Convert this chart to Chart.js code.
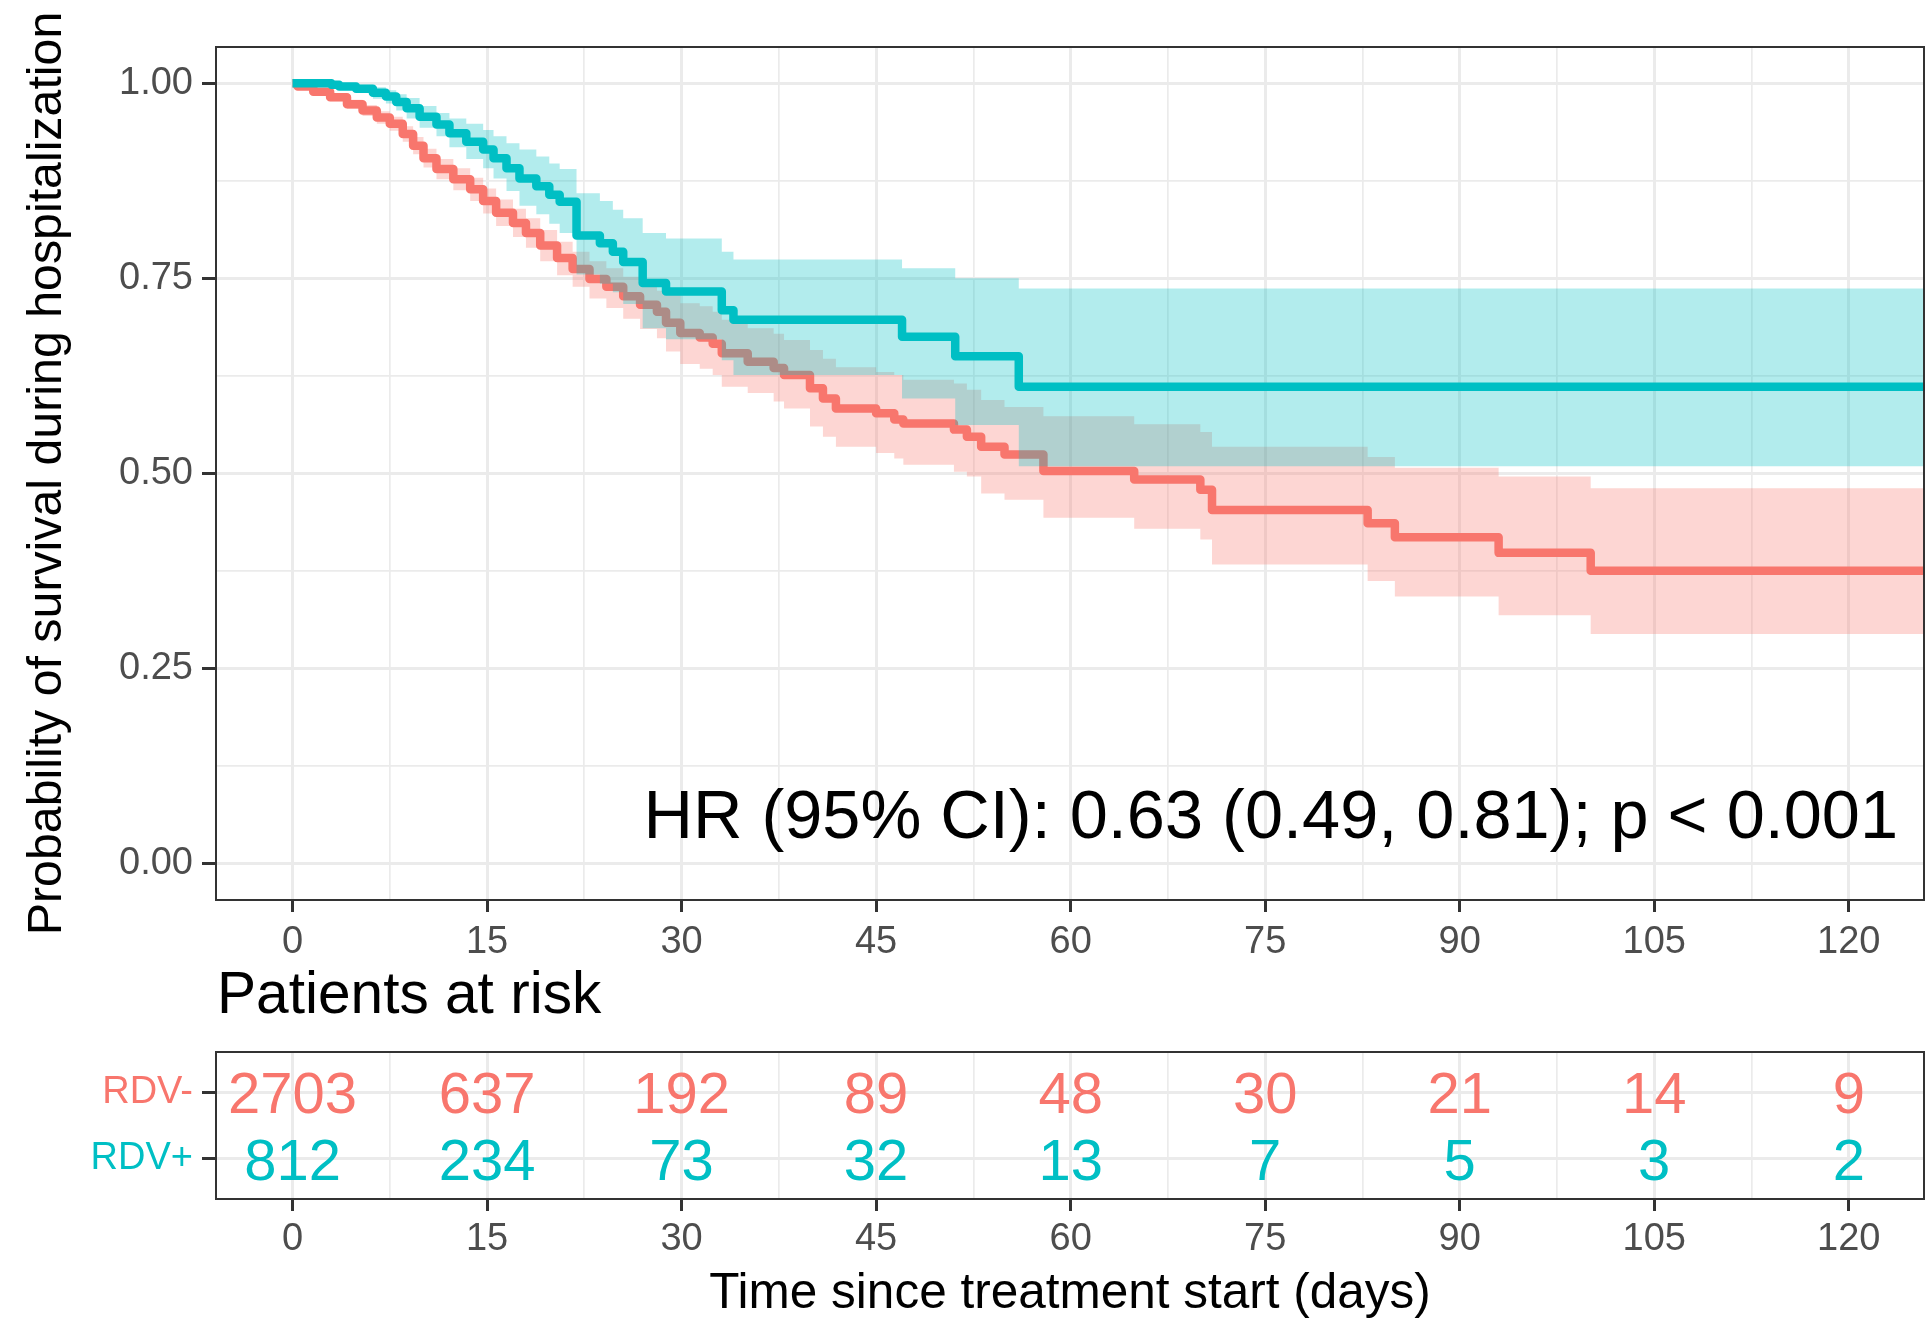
<!DOCTYPE html>
<html>
<head>
<meta charset="utf-8">
<script src="https://cdn.jsdelivr.net/npm/chart.js@4"></script>
<style>
  html, body { margin: 0; padding: 0; background: #fff; }
  body { width: 1926px; height: 1318px; position: relative; overflow: hidden;
         font-family: 'Liberation Sans', Arial, sans-serif; }
  #survival { position: absolute; left: 0; top: 0; }
  #risk { position: absolute; left: 0; top: 1020px; }
  #riskTitle { position: absolute; left: 217px; top: 964px; font-size: 58.6px; line-height: 58px;
               color: #000; white-space: nowrap; }
</style>
</head>
<body>
<canvas id="survival" width="1926" height="965"></canvas>
<div id="riskTitle">Patients at risk</div>
<canvas id="risk" width="1926" height="298"></canvas>
<script>
// RDV- (no remdesivir) Kaplan-Meier estimate
const redTime  = [0, 0.4, 1.6, 2.9, 4.2, 5.4, 6.5, 7.5, 8.5, 9.3, 10.1, 11.1, 12.4, 13.7, 14.7, 15.7, 17.0, 18.0, 19.1, 20.4,
                  21.6, 22.9, 24.2, 25.5, 26.8, 28.1, 28.8, 29.9, 31.4, 32.4, 33.1, 35.1, 37.1, 37.9, 39.9, 40.9, 41.9, 45.0,
                  46.4, 47.1, 51.0, 52.0, 53.1, 54.9, 57.9, 64.9, 70.0, 70.9, 82.9, 85.0, 93.0, 100.1, 126];
const redSurv  = [1.000, 0.996, 0.989, 0.982, 0.973, 0.965, 0.956, 0.948, 0.935, 0.920, 0.904, 0.890, 0.877, 0.864, 0.849, 0.834, 0.821, 0.808, 0.792, 0.776,
                  0.762, 0.749, 0.739, 0.727, 0.716, 0.707, 0.693, 0.680, 0.674, 0.666, 0.654, 0.643, 0.635, 0.626, 0.609, 0.596, 0.583, 0.577,
                  0.569, 0.564, 0.556, 0.547, 0.534, 0.524, 0.503, 0.492, 0.479, 0.453, 0.436, 0.418, 0.398, 0.375, 0.375];
const redUpper = [1.000, 0.999, 0.993, 0.987, 0.979, 0.972, 0.964, 0.957, 0.945, 0.931, 0.916, 0.903, 0.891, 0.879, 0.865, 0.851, 0.839, 0.827, 0.812, 0.797,
                  0.784, 0.772, 0.763, 0.752, 0.742, 0.734, 0.730, 0.718, 0.714, 0.707, 0.697, 0.686, 0.679, 0.671, 0.658, 0.647, 0.636, 0.630,
                  0.626, 0.620, 0.615, 0.607, 0.594, 0.585, 0.573, 0.563, 0.553, 0.534, 0.521, 0.507, 0.496, 0.481, 0.481];
const redLower = [1.000, 0.993, 0.985, 0.977, 0.967, 0.958, 0.948, 0.939, 0.925, 0.909, 0.892, 0.877, 0.863, 0.849, 0.833, 0.817, 0.803, 0.789, 0.772, 0.754,
                  0.739, 0.724, 0.712, 0.698, 0.685, 0.673, 0.656, 0.640, 0.634, 0.626, 0.611, 0.603, 0.592, 0.583, 0.560, 0.547, 0.534, 0.526,
                  0.519, 0.511, 0.502, 0.496, 0.474, 0.466, 0.443, 0.429, 0.415, 0.383, 0.362, 0.342, 0.318, 0.294, 0.294];

// RDV+ (remdesivir)
const tealTime  = [0, 3.0, 3.6, 4.9, 6.2, 7.2, 8.0, 8.8, 9.8, 11.1, 12.1, 13.4, 14.7, 15.5, 16.5, 17.5, 18.8, 19.8, 20.6, 21.9,
                   23.7, 24.7, 25.5, 27.0, 28.8, 33.1, 34.0, 47.0, 51.1, 56.0, 126];
const tealSurv  = [1.000, 0.998, 0.996, 0.993, 0.988, 0.983, 0.976, 0.968, 0.957, 0.947, 0.936, 0.925, 0.915, 0.904, 0.891, 0.878, 0.868, 0.857, 0.848, 0.805,
                   0.795, 0.784, 0.771, 0.744, 0.733, 0.709, 0.697, 0.675, 0.650, 0.611, 0.611];
const tealUpper = [1.000, 1.000, 0.999, 0.998, 0.995, 0.991, 0.986, 0.981, 0.971, 0.962, 0.955, 0.948, 0.940, 0.932, 0.923, 0.915, 0.906, 0.897, 0.890, 0.859,
                   0.849, 0.838, 0.827, 0.808, 0.801, 0.784, 0.774, 0.763, 0.750, 0.737, 0.737];
const tealLower = [1.000, 0.996, 0.993, 0.988, 0.980, 0.974, 0.965, 0.955, 0.943, 0.932, 0.918, 0.903, 0.891, 0.878, 0.862, 0.843, 0.832, 0.820, 0.808, 0.755,
                   0.743, 0.732, 0.717, 0.686, 0.672, 0.645, 0.626, 0.596, 0.562, 0.509, 0.509];

const groups = ['RDV-', 'RDV+'];
const groupColors = ['#F8766D', '#00BFC4'];
const bandColors = ['rgba(248,118,109,0.3)', 'rgba(0,191,196,0.3)'];

// numbers at risk
const riskTimes = [0, 15, 30, 45, 60, 75, 90, 105, 120];
const riskMinus = [2703, 637, 192, 89, 48, 30, 21, 14, 9];
const riskPlus  = [812, 234, 73, 32, 13, 7, 5, 3, 2];

// axes
const xMajor = [0, 15, 30, 45, 60, 75, 90, 105, 120];
const xMinor = [7.5, 22.5, 37.5, 52.5, 67.5, 82.5, 97.5, 112.5];
const yMajor = [0, 0.25, 0.5, 0.75, 1];
const yMinor = [0.125, 0.375, 0.625, 0.875];
const yLabels = ['0.00', '0.25', '0.50', '0.75', '1.00'];

const hrText = 'HR (95% CI): 0.63 (0.49, 0.81); p < 0.001';
const hrAnchor = [123.8, 0.064];

const FONT = "'Liberation Sans', Arial, sans-serif";
Chart.defaults.font.family = FONT;
Chart.defaults.animation = false;

const pts = (ts, vs) => ts.map((t, i) => ({ x: t, y: vs[i] }));

const withMinor = (major, minor) =>
  major.map(v => ({ value: v, minor: false }))
    .concat(minor.map(v => ({ value: v, minor: true })))
    .sort((a, b) => a.value - b.value);

const gridStyle = {
  color: '#EBEBEB',
  lineWidth: c => (c.tick && c.tick.minor ? 1.7 : 3),
  tickColor: c => (c.tick && c.tick.minor ? 'rgba(0,0,0,0)' : '#333333'),
  tickWidth: 3,
  tickLength: 12
};

const panelBorder = {
  id: 'panelBorder',
  afterDraw(chart) {
    const { ctx, chartArea: a } = chart;
    ctx.save();
    ctx.strokeStyle = '#333333';
    ctx.lineWidth = 2;
    ctx.strokeRect(a.left, a.top, a.right - a.left, a.bottom - a.top);
    ctx.restore();
  }
};

const hrNote = {
  id: 'hrNote',
  afterDatasetsDraw(chart) {
    const { ctx, scales } = chart;
    const x = scales.x.getPixelForValue(hrAnchor[0]);
    const y = scales.y.getPixelForValue(hrAnchor[1]);
    ctx.save();
    ctx.font = '68.5px ' + FONT;
    ctx.fillStyle = '#000';
    ctx.textAlign = 'right';
    ctx.textBaseline = 'alphabetic';
    ctx.fillText(hrText, x, y + 68.5 * 0.358);
    ctx.restore();
  }
};

const lineSet = (label, t, v, color, order) => ({
  label, data: pts(t, v), stepped: true, borderColor: color, borderWidth: 8.5,
  borderJoinStyle: 'round', pointRadius: 0, fill: false, order
});
const bandSet = (label, t, v, fill, bg, order) => ({
  label, data: pts(t, v), stepped: true, borderColor: 'rgba(0,0,0,0)', borderWidth: 0,
  pointRadius: 0, fill, backgroundColor: bg, order
});

new Chart(document.getElementById('survival'), {
  type: 'line',
  data: {
    datasets: [
      lineSet('RDV+', tealTime, tealSurv, groupColors[1], 0),
      bandSet('RDV+ upper', tealTime, tealUpper, '+1', bandColors[1], 1),
      bandSet('RDV+ lower', tealTime, tealLower, false, bandColors[1], 1),
      lineSet('RDV-', redTime, redSurv, groupColors[0], 2),
      bandSet('RDV- upper', redTime, redUpper, '+1', bandColors[0], 3),
      bandSet('RDV- lower', redTime, redLower, false, bandColors[0], 3)
    ]
  },
  options: {
    responsive: false,
    devicePixelRatio: 1,
    layout: { padding: { top: 47, right: 2, left: 15, bottom: 0 } },
    plugins: { legend: { display: false }, tooltip: { enabled: false } },
    scales: {
      x: {
        type: 'linear', min: -5.9, max: 125.8,
        afterBuildTicks: s => { s.ticks = withMinor(xMajor, xMinor); },
        afterFit: s => { s.height = 65; },
        grid: gridStyle,
        border: { display: false },
        ticks: {
          autoSkip: false, maxRotation: 0, padding: 7.7, color: '#4D4D4D', font: { size: 38 },
          callback: (v, i, ticks) => (ticks[i].minor ? '' : String(v))
        }
      },
      y: {
        type: 'linear', min: -0.047, max: 1.0465,
        afterBuildTicks: s => { s.ticks = withMinor(yMajor, yMinor); },
        afterFit: s => { s.width = 201; },
        grid: Object.assign({}, gridStyle, { tickLength: 14 }),
        border: { display: false },
        title: {
          display: true, text: 'Probability of survival during hospitalization',
          color: '#000', font: { size: 48.3 }, padding: { top: 4, bottom: 4 }
        },
        ticks: {
          autoSkip: false, padding: 9, color: '#4D4D4D', font: { size: 38 },
          callback: (v, i, ticks) => (ticks[i].minor ? '' : yLabels[yMajor.indexOf(v)])
        }
      }
    }
  },
  plugins: [hrNote, panelBorder]
});

const riskNumbers = {
  id: 'riskNumbers',
  afterDatasetsDraw(chart) {
    const ctx = chart.ctx;
    ctx.save();
    ctx.font = '58px ' + FONT;
    ctx.textAlign = 'center';
    ctx.textBaseline = 'alphabetic';
    chart.data.datasets.forEach((ds, di) => {
      ctx.fillStyle = groupColors[di];
      chart.getDatasetMeta(di).data.forEach((p, i) => {
        ctx.fillText(String(ds.counts[i]), p.x, p.y + 58 * 0.358);
      });
    });
    ctx.restore();
  }
};

new Chart(document.getElementById('risk'), {
  type: 'scatter',
  data: {
    datasets: [
      { label: groups[0], data: riskTimes.map(t => ({ x: t, y: 1 })), counts: riskMinus, pointRadius: 0 },
      { label: groups[1], data: riskTimes.map(t => ({ x: t, y: 2 })), counts: riskPlus, pointRadius: 0 }
    ]
  },
  options: {
    responsive: false,
    devicePixelRatio: 1,
    layout: { padding: { top: 32, right: 2, left: 15, bottom: 0 } },
    plugins: { legend: { display: false }, tooltip: { enabled: false } },
    scales: {
      x: {
        type: 'linear', min: -5.9, max: 125.8,
        afterBuildTicks: s => { s.ticks = withMinor(xMajor, xMinor); },
        afterFit: s => { s.height = 119; },
        grid: gridStyle,
        border: { display: false },
        title: {
          display: true, text: 'Time since treatment start (days)', color: '#000',
          font: { size: 49.5, lineHeight: 0.9 }, padding: { top: 0, bottom: 1.5 }
        },
        ticks: {
          autoSkip: false, maxRotation: 0, padding: 5.7, color: '#4D4D4D', font: { size: 38 },
          callback: (v, i, ticks) => (ticks[i].minor ? '' : String(v))
        }
      },
      y: {
        type: 'linear', reverse: true, min: 0.4, max: 2.6,
        afterBuildTicks: s => { s.ticks = [{ value: 1 }, { value: 2 }]; },
        afterFit: s => { s.width = 201; },
        grid: Object.assign({}, gridStyle, { lineWidth: 3, tickColor: '#333333', tickLength: 14 }),
        border: { display: false },
        ticks: {
          autoSkip: false, padding: 9, font: { size: 38 },
          color: c => groupColors[c.tick.value - 1],
          callback: v => groups[v - 1]
        }
      }
    }
  },
  plugins: [riskNumbers, panelBorder]
});
</script>
</body>
</html>
